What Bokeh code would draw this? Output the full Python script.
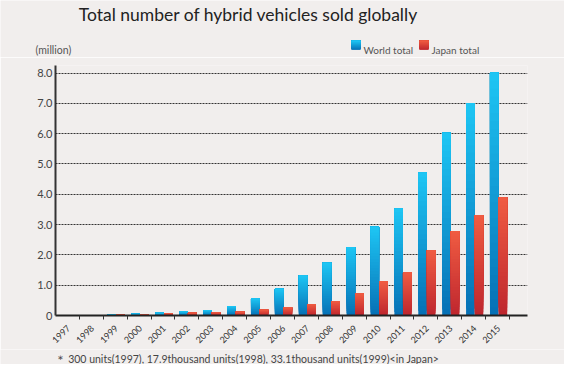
import numpy as np
from bokeh.plotting import figure
from bokeh.layouts import column
from bokeh.models import ColumnDataSource, FixedTicker, Label, Range1d
from bokeh.embed import file_html
from bokeh.resources import INLINE

years = ["1997", "1998", "1999", "2000", "2001", "2002", "2003", "2004", "2005", "2006",
         "2007", "2008", "2009", "2010", "2011", "2012", "2013", "2014", "2015"]
world_total = [0.0003, 0.018, 0.05, 0.06, 0.09, 0.13, 0.18, 0.31, 0.56, 0.88,
               1.32, 1.74, 2.26, 2.93, 3.53, 4.72, 6.03, 7.01, 8.02]
japan_total = [0.0003, 0.0179, 0.0331, 0.05, 0.08, 0.09, 0.11, 0.12, 0.19, 0.26,
               0.38, 0.47, 0.73, 1.13, 1.43, 2.15, 2.79, 3.32, 3.89]
y_ticks = [0, 1, 2, 3, 4, 5, 6, 7, 8]
y_tick_labels = ["0", "1.0", "2.0", "3.0", "4.0", "5.0", "6.0", "7.0", "8.0"]
title_text = "Total number of hybrid vehicles sold globally"
unit_text = "(million)"
series_names = ["World total", "Japan total"]
note_text = "\uff0a 300 units(1997), 17.9thousand units(1998), 33.1thousand units(1999)<in Japan>"

BG = "#f1eeed"
FONT = "Lato"
WORLD_TOP, WORLD_BOT = (30, 198, 244), (6, 112, 181)
JAPAN_TOP, JAPAN_BOT = (240, 92, 66), (190, 38, 46)
N_SLICES = 30
W = 564


def hexc(c):
    return "#%02x%02x%02x" % tuple(int(round(v)) for v in c)


def gradient_source(lefts, rights, bottoms, tops, c_top, c_bot):
    """Vertical gradient per bar: overlapping slices, each from a fraction of the bar up to its top."""
    left, right, bottom, top, color = [], [], [], [], []
    for k in range(N_SLICES):
        f = (k + 0.5) / N_SLICES
        col = hexc([c_bot[j] + (c_top[j] - c_bot[j]) * f for j in range(3)])
        for l, r, b, t in zip(lefts, rights, bottoms, tops):
            left.append(l)
            right.append(r)
            bottom.append(b + (t - b) * k / N_SLICES)
            top.append(t)
            color.append(col)
    return ColumnDataSource(dict(left=left, right=right, bottom=bottom, top=top, color=color))


def blank(height):
    f = figure(width=W, height=height, output_backend="svg", toolbar_location=None, title=None,
               x_range=Range1d(0, W), y_range=Range1d(0, height),
               x_axis_type=None, y_axis_type=None, min_border=0, frame_align=False)
    f.background_fill_color = BG
    f.border_fill_color = BG
    f.outline_line_color = None
    f.xgrid.visible = False
    f.ygrid.visible = False
    return f


# ---------- header ----------
head = blank(57)
head.add_layout(Label(x=248, y=43, text=title_text, text_align="center",
                      text_baseline="alphabetic", text_font=FONT, text_font_size="17.5px",
                      text_color="#222222"))
head.add_layout(Label(x=35, y=8, text=unit_text, text_baseline="alphabetic",
                      text_font=FONT, text_font_size="10.5px", text_color="#555555"))
# legend swatches with the same gradients as the bars
sw_w = gradient_source([351], [360], [7.7], [16.7], WORLD_TOP, WORLD_BOT)
sw_j = gradient_source([419], [428], [7.7], [16.7], JAPAN_TOP, JAPAN_BOT)
head.quad(left="left", right="right", bottom="bottom", top="top", source=sw_w,
          fill_color="color", line_color=None)
head.quad(left="left", right="right", bottom="bottom", top="top", source=sw_j,
          fill_color="color", line_color=None)
head.add_layout(Label(x=363, y=8, text=series_names[0], text_baseline="alphabetic",
                      text_font=FONT, text_font_size="10px", text_color="#555555"))
head.add_layout(Label(x=431, y=8, text=series_names[1], text_baseline="alphabetic",
                      text_font=FONT, text_font_size="10px", text_color="#555555"))

# ---------- main chart ----------
p = figure(width=W, height=292, output_backend="svg", toolbar_location=None, title=None,
           x_range=Range1d(0, 19.75), y_range=Range1d(0, 8.25), frame_align=False,
           min_border_left=55, min_border_right=37, min_border_top=8, min_border_bottom=30)
p.background_fill_color = BG
p.border_fill_color = BG
p.outline_line_color = None

idx = np.arange(len(years))
src_w = gradient_source(idx + 0.18, idx + 0.54, [0] * len(years), world_total, WORLD_TOP, WORLD_BOT)
src_j = gradient_source(idx + 0.54, idx + 0.90, [0] * len(years), japan_total, JAPAN_TOP, JAPAN_BOT)
p.quad(left="left", right="right", bottom="bottom", top="top", source=src_w,
       fill_color="color", line_color=None)
p.quad(left="left", right="right", bottom="bottom", top="top", source=src_j,
       fill_color="color", line_color=None)

p.xgrid.visible = False
p.ygrid.ticker = FixedTicker(ticks=y_ticks[1:])
p.ygrid.grid_line_color = "#333333"
p.ygrid.grid_line_dash = "2 1"
p.ygrid.grid_line_width = 1

p.yaxis.ticker = FixedTicker(ticks=y_ticks)
p.yaxis.major_label_overrides = {t: l for t, l in zip(y_ticks, y_tick_labels)}
p.yaxis.axis_line_color = "#333333"
p.yaxis.axis_line_width = 2
p.yaxis.major_tick_line_color = None
p.yaxis.major_tick_out = 0
p.yaxis.minor_tick_line_color = None
p.yaxis.major_label_standoff = 3
p.yaxis.major_label_text_font = FONT
p.yaxis.major_label_text_font_size = "11px"
p.yaxis.major_label_text_color = "#444444"

centers = [i + 0.54 for i in range(len(years))]
bounds = [i for i in range(1, len(years) + 1)]
p.xaxis.ticker = FixedTicker(ticks=centers, minor_ticks=bounds)
p.xaxis.major_label_overrides = {c: y for c, y in zip(centers, years)}
p.xaxis.major_label_orientation = np.pi / 4
p.xaxis.axis_line_color = "#222222"
p.xaxis.axis_line_width = 2
p.xaxis.major_tick_line_color = None
p.xaxis.major_tick_out = 0
p.xaxis.minor_tick_line_color = "#333333"
p.xaxis.minor_tick_out = 4
p.xaxis.minor_tick_in = 0
p.xaxis.major_label_standoff = 7
p.xaxis.major_label_text_font = FONT
p.xaxis.major_label_text_font_size = "9px"
p.xaxis.major_label_text_color = "#333333"

# ---------- footer ----------
foot = blank(15)
foot.add_layout(Label(x=54, y=6, text=note_text, text_baseline="alphabetic",
                      text_font=FONT, text_font_size="10.5px", text_color="#444444"))

layout = column(head, p, foot, spacing=0)
open("out.html", "w").write(file_html(layout, INLINE))
